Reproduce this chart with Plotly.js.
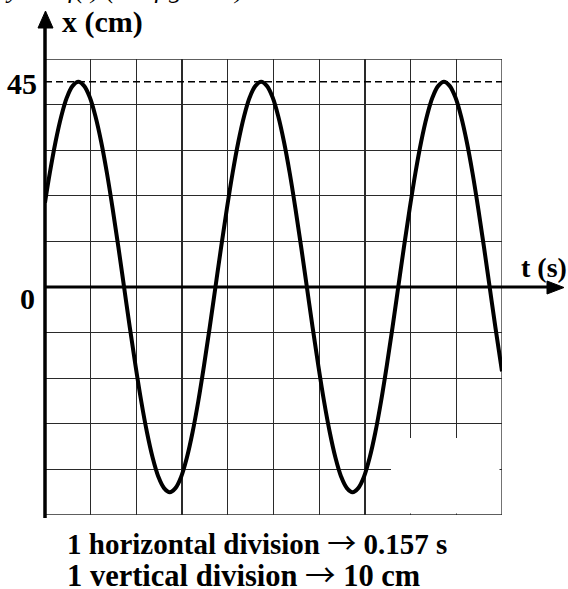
<!DOCTYPE html>
<html>
<head>
<meta charset="utf-8">
<script src="https://cdn.plot.ly/plotly-3.0.1.min.js"></script>
<style>
  html, body { margin: 0; padding: 0; background: #fff; }
  #chart { width: 568px; height: 589px; }
</style>
</head>
<body>
<div id="chart"></div>
<script>
// Elongation x (cm) of the oscillator against time t (s)
const secondsPerDivision = 0.157;
const cmPerDivision = 10;
const amplitude = 45;

// sample times, in horizontal divisions
const timeDiv = [
  0, 0.105, 0.23, 0.355, 0.48, 0.605, 0.73, 0.855, 0.98, 1.105,
  1.23, 1.355, 1.48, 1.605, 1.73, 1.855, 1.98, 2.105, 2.23, 2.355,
  2.48, 2.605, 2.73, 2.855, 2.98, 3.105, 3.23, 3.355, 3.48, 3.605,
  3.73, 3.855, 3.98, 4.105, 4.23, 4.355, 4.48, 4.605, 4.73, 4.855,
  4.98, 5.105, 5.23, 5.355, 5.48, 5.605, 5.73, 5.855, 5.98, 6.105,
  6.23, 6.355, 6.48, 6.605, 6.73, 6.855, 6.98, 7.105, 7.23, 7.355,
  7.48, 7.605, 7.73, 7.855, 7.98, 8.105, 8.23, 8.355, 8.48, 8.605,
  8.73, 8.855, 8.98, 9.105, 9.23, 9.355, 9.48, 9.605, 9.73, 9.855,
  10
];
// elongation at those times, in cm
const elongationCm = [
  18.5, 25.0, 31.8, 37.4, 41.6, 44.1, 45, 44.1, 41.6, 37.4,
  31.8, 25.0, 17.2, 8.8, 0, -8.8, -17.2, -25.0, -31.8, -37.4,
  -41.6, -44.1, -45, -44.1, -41.6, -37.4, -31.8, -25.0, -17.2, -8.8,
  0, 8.8, 17.2, 25.0, 31.8, 37.4, 41.6, 44.1, 45, 44.1,
  41.6, 37.4, 31.8, 25.0, 17.2, 8.8, 0, -8.8, -17.2, -25.0,
  -31.8, -37.4, -41.6, -44.1, -45, -44.1, -41.6, -37.4, -31.8, -25.0,
  -17.2, -8.8, 0, 8.8, 17.2, 25.0, 31.8, 37.4, 41.6, 44.1,
  45, 44.1, 41.6, 37.4, 31.8, 25.0, 17.2, 8.8, 0, -8.8,
  -18.5
];

const yLabels = ["45", "0"];
const xAxisLabel = "x (cm)";
const tAxisLabel = "t (s)";
const scaleNotes = [
  ["1 horizontal division", "0.157 s"],
  ["1 vertical division", "10 cm"]
];
const headerLine = "given by x = f(t) (see figure 2)";

// page geometry
const W = 568, H = 589;
const M = { l: 45, r: 66, t: 59, b: 74 };
const PW = W - M.l - M.r, PH = H - M.t - M.b;
const px = v => (v - M.l) / PW;          // pixel column -> paper x
const py = v => (H - M.b - v) / PH;      // pixel row -> paper y

const FONT = '"Liberation Serif", "Times New Roman", Times, serif';
const tMax = secondsPerDivision * 10;
const ARROW = '<span style="font-family:\'Noto Sans CJK JP\'">\u2192</span>';

const trace = {
  x: timeDiv.map(d => d * secondsPerDivision),
  y: elongationCm,
  type: 'scatter',
  mode: 'lines',
  line: { color: '#000', width: 4, shape: 'spline', smoothing: 1 },
  hoverinfo: 'skip'
};

function label(text, x, y, xanchor, size) {
  return {
    text: text, xref: 'paper', yref: 'paper', x: px(x), y: py(y),
    xanchor: xanchor, yanchor: 'middle', showarrow: false,
    font: { family: FONT, size: size, color: '#000' }
  };
}
const note = n => '<b>' + n[0] + ' </b>' + ARROW + '<b> ' + n[1] + '</b>';

const annotations = [
  label('<b>' + xAxisLabel + '</b>', 60, 22, 'left', 30),
  label('<b>' + yLabels[0] + '</b>', 39, 83, 'right', 30),
  label('<b>' + yLabels[1] + '</b>', 37, 298, 'right', 30),
  label('<b>' + tAxisLabel + '</b>', 519, 267, 'left', 28),
  label(note(scaleNotes[0]), 65, 541, 'left', 29),
  label(note(scaleNotes[1]), 65, 573, 'left', 30.5),
  {
    text: '<i>' + headerLine + '</i>', xref: 'paper', yref: 'paper',
    x: px(-70), y: py(-10), xanchor: 'left', yanchor: 'middle', showarrow: false,
    font: { family: FONT, size: 26, color: '#000' }
  }
];

const shapes = [
  // frame of the grid (top, right, bottom)
  { type: 'rect', xref: 'x', yref: 'y', x0: 0, x1: tMax, y0: -50, y1: 50,
    line: { color: '#2a2a2a', width: 1.3 }, fillcolor: 'rgba(0,0,0,0)', layer: 'below' },
  // dashed amplitude level
  { type: 'line', xref: 'x', yref: 'y', x0: 0, x1: tMax, y0: amplitude, y1: amplitude,
    line: { color: '#000', width: 1.5, dash: '7px,4px' } },
  // blank patch in the lower right corner of the grid
  { type: 'rect', xref: 'paper', yref: 'paper', x0: px(391), x1: px(499.5), y0: py(513.5), y1: py(438),
    line: { width: 0 }, fillcolor: '#fff', layer: 'above' },
  // time axis with arrow
  { type: 'line', xref: 'paper', yref: 'y', x0: 0, x1: px(550), y0: 0, y1: 0,
    line: { color: '#000', width: 3 } },
  { type: 'path', xref: 'paper', yref: 'paper',
    path: `M ${px(564)} ${py(287.5)} L ${px(547)} ${py(281)} L ${px(547)} ${py(294)} Z`,
    fillcolor: '#000', line: { color: '#000', width: 1 } },
  // elongation axis with arrow
  { type: 'line', xref: 'paper', yref: 'paper', x0: px(45), x1: px(45), y0: py(518), y1: py(26),
    line: { color: '#000', width: 3.5 } },
  { type: 'path', xref: 'paper', yref: 'paper',
    path: `M ${px(45.5)} ${py(11)} L ${px(38)} ${py(28)} L ${px(53)} ${py(28)} Z`,
    fillcolor: '#000', line: { color: '#000', width: 1 } }
];

const layout = {
  width: W, height: H,
  margin: M,
  paper_bgcolor: '#fff', plot_bgcolor: '#fff',
  showlegend: false,
  xaxis: {
    range: [0, tMax], tick0: 0, dtick: secondsPerDivision,
    showgrid: true, gridcolor: '#2a2a2a', gridwidth: 1.3,
    zeroline: false, showline: false, showticklabels: false, ticks: '',
    fixedrange: true
  },
  yaxis: {
    range: [-50, 50], tick0: 0, dtick: cmPerDivision,
    showgrid: true, gridcolor: '#2a2a2a', gridwidth: 1.3,
    zeroline: false, showline: false, showticklabels: false, ticks: '',
    fixedrange: true
  },
  annotations: annotations,
  shapes: shapes
};

Plotly.newPlot('chart', [trace], layout, { displayModeBar: false, staticPlot: true });
</script>
</body>
</html>
